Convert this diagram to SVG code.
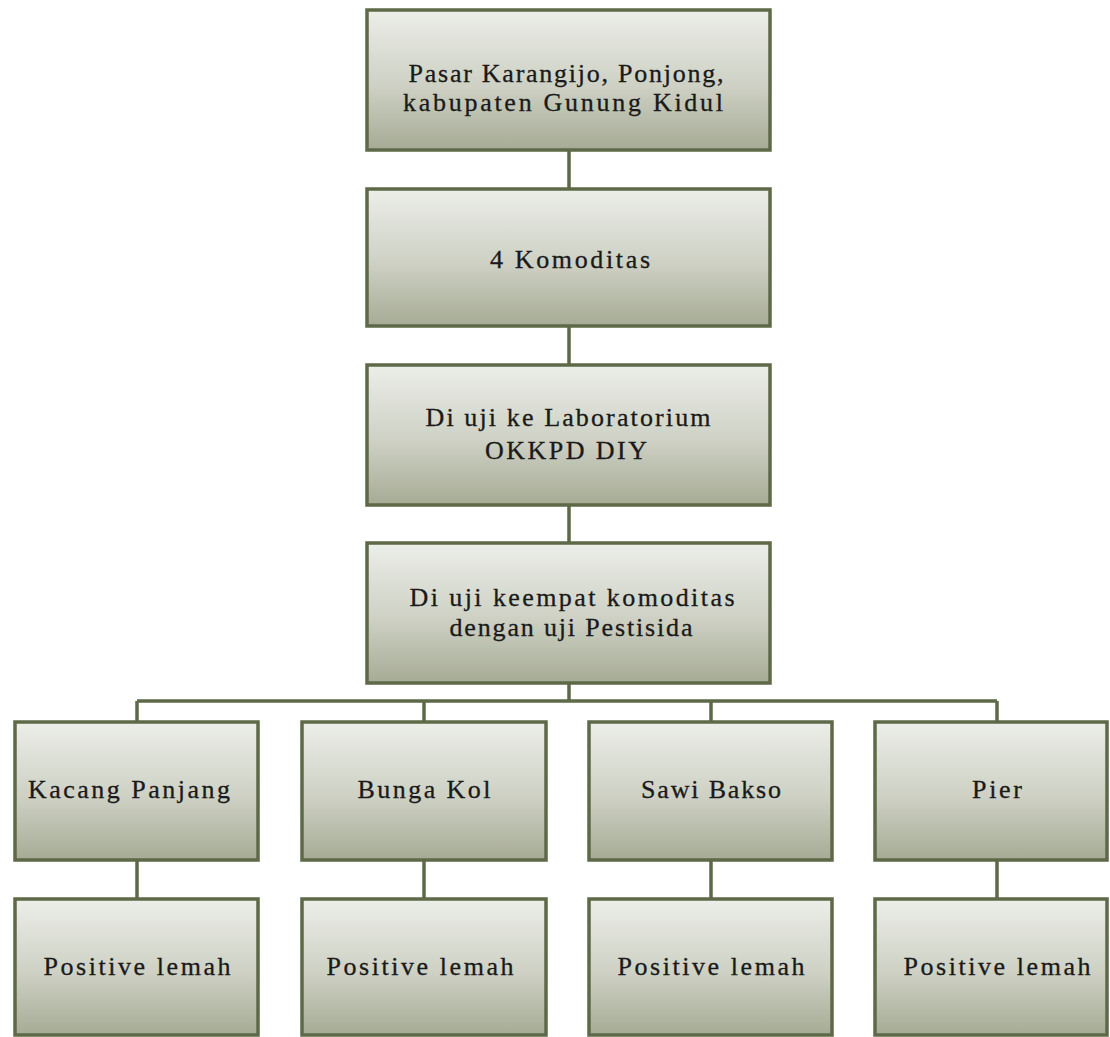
<svg xmlns="http://www.w3.org/2000/svg" width="1110" height="1037" viewBox="0 0 1110 1037">
<defs>
<linearGradient id="g" x1="0" y1="0" x2="0" y2="1">
<stop offset="0" stop-color="#eceee9"/>
<stop offset="0.55" stop-color="#cdd0c3"/>
<stop offset="1" stop-color="#a6ab95"/>
</linearGradient>
<style>
.box{fill:url(#g);stroke:#5e6947;stroke-width:3.5}
.t{font-family:"Liberation Serif","Times New Roman",serif;font-size:26px;fill:#1a1a1a;stroke:#1a1a1a;stroke-width:0.3;text-anchor:middle}
.c{stroke:#5e6947;stroke-width:3.5;fill:none}
</style>
</defs>
<rect width="1110" height="1037" fill="#ffffff"/>
<g id="connectors">
<path class="c" d="M569 150V189M569 326V365M569 505V543M569 683V701M137 701H997M137 701V722M424 701V722M711 701V722M997 701V722M137 860V899M424 860V899M711 860V899M997 860V899"/>
</g>
<g id="n1"><rect class="box" x="367" y="10" width="403" height="140"/>
<text class="t" x="566" y="82" textLength="315" lengthAdjust="spacing">Pasar Karangijo, Ponjong,</text>
<text class="t" x="563" y="111" textLength="320" lengthAdjust="spacing">kabupaten Gunung Kidul</text></g>
<g id="n2"><rect class="box" x="367" y="189" width="403" height="137"/>
<text class="t" x="570" y="268" textLength="160" lengthAdjust="spacing">4 Komoditas</text></g>
<g id="n3"><rect class="box" x="367" y="365" width="403" height="140"/>
<text class="t" x="568" y="426" textLength="285" lengthAdjust="spacing">Di uji ke Laboratorium</text>
<text class="t" x="566" y="459" textLength="162" lengthAdjust="spacing">OKKPD DIY</text></g>
<g id="n4"><rect class="box" x="367" y="543" width="403" height="140"/>
<text class="t" x="572" y="606" textLength="325" lengthAdjust="spacing">Di uji keempat komoditas</text>
<text class="t" x="571" y="636" textLength="243" lengthAdjust="spacing">dengan uji Pestisida</text></g>
<g id="n5"><rect class="box" x="15" y="722" width="243" height="138"/>
<text class="t" x="129" y="798" textLength="202" lengthAdjust="spacing">Kacang Panjang</text></g>
<g id="n6"><rect class="box" x="302" y="722" width="244" height="138"/>
<text class="t" x="424" y="798" textLength="133" lengthAdjust="spacing">Bunga Kol</text></g>
<g id="n7"><rect class="box" x="589" y="722" width="243" height="138"/>
<text class="t" x="711" y="798" textLength="140" lengthAdjust="spacing">Sawi Bakso</text></g>
<g id="n8"><rect class="box" x="875" y="722" width="232" height="138"/>
<text class="t" x="997" y="798" textLength="50" lengthAdjust="spacing">Pier</text></g>
<g id="n9"><rect class="box" x="15" y="899" width="243" height="136"/>
<text class="t" x="137" y="975" textLength="187" lengthAdjust="spacing">Positive lemah</text></g>
<g id="n10"><rect class="box" x="302" y="899" width="244" height="136"/>
<text class="t" x="420" y="975" textLength="187" lengthAdjust="spacing">Positive lemah</text></g>
<g id="n11"><rect class="box" x="589" y="899" width="243" height="136"/>
<text class="t" x="711" y="975" textLength="187" lengthAdjust="spacing">Positive lemah</text></g>
<g id="n12"><rect class="box" x="875" y="899" width="232" height="136"/>
<text class="t" x="997" y="975" textLength="187" lengthAdjust="spacing">Positive lemah</text></g>
</svg>
